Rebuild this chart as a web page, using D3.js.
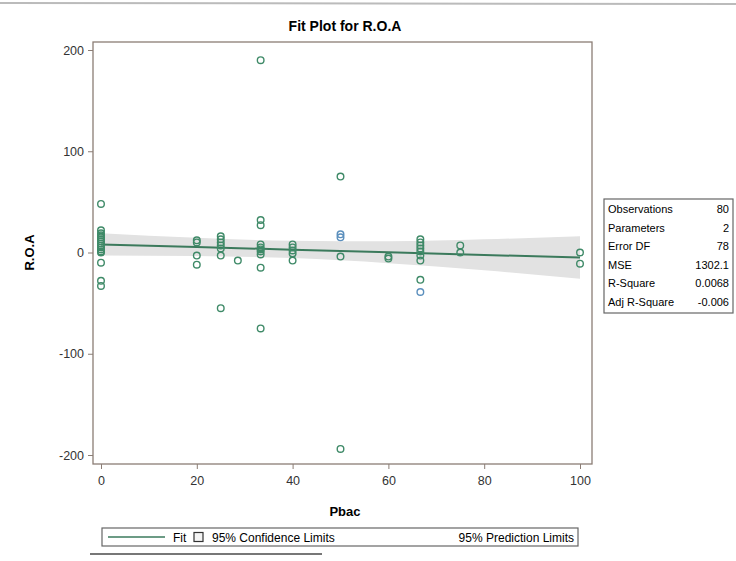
<!DOCTYPE html>
<html>
<head>
<meta charset="utf-8">
<script src="https://cdn.jsdelivr.net/npm/d3@7"></script>
<style>
  body { margin: 0; background: #fff; }
  text { font-family: "Liberation Sans", Arial, sans-serif; }
</style>
</head>
<body>
<svg class="viz"></svg>
<script>
var width = 736,
  height = 561;

// observations (column by column)
var pbac = [
  0, 0, 0, 0, 0, 0, 0, 0, 0, 0, 0, 0, 0, 0, 0, 0,
  20, 20, 20, 20,
  25, 25, 25, 25, 25, 25, 25,
  28.57,
  33.33, 33.33, 33.33, 33.33, 33.33, 33.33, 33.33, 33.33, 33.33, 33.33,
  40, 40, 40, 40, 40,
  50, 50, 50, 50, 50,
  60, 60,
  66.67, 66.67, 66.67, 66.67, 66.67, 66.67, 66.67, 66.67, 66.67,
  75, 75,
  100, 100
];
var roa = [
  48, 22, 19, 17, 15, 13, 11, 9, 7, 5, 3, 1, 0, -10, -28, -33,
  12, 10, -3, -12,
  16, 13, 10, 7, 4, -3, -55,
  -8,
  190, 32, 27, 8, 5, 3, 1, -2, -15, -75,
  8, 5, 2, -1, -8,
  75, 18, 15, -4, -194,
  -6, -4,
  13, 10, 7, 4, 1, -3, -8, -27, -39,
  7, 0,
  0, -11
];
// a few markers look blue in the scan (indexes into the arrays above)
var blue_points = [44, 45, 58];

// fitted line and 95% confidence band (read at these x values)
var band_x = [0, 20, 40, 60, 80, 100];
var fit_y = [8, 5.4, 2.8, 0.2, -2.4, -5];
var ci_upper = [19, 14.5, 11.5, 11, 13, 16];
var ci_lower = [-3, -3.5, -5.5, -10.5, -17.5, -26];

var x_ticks = [0, 20, 40, 60, 80, 100];
var y_ticks = [-200, -100, 0, 100, 200];

var stat_labels = ["Observations", "Parameters", "Error DF", "MSE", "R-Square", "Adj R-Square"];
var stat_values = ["80", "2", "78", "1302.1", "0.0068", "-0.006"];

var frame = { left: 93, right: 592, top: 42, bottom: 464 };
var green = "#3f8a68",
  fit_color = "#3b7a5c",
  blue = "#5b8fbd",
  frame_color = "#8b7d75";

var viz = d3.select(".viz")
  .attr("width", width)
  .attr("height", height);

var x = d3.scaleLinear().domain([0, 100]).range([101, 580]);
var y = d3.scaleLinear().domain([-200, 200]).range([455, 50]);

// scan edges
viz.append("line").attr("x1", 0).attr("x2", width).attr("y1", 3).attr("y2", 4)
  .attr("stroke", "#bbb").attr("stroke-width", 2);
viz.append("line").attr("x1", 90).attr("x2", 322).attr("y1", 554).attr("y2", 554)
  .attr("stroke", "#777").attr("stroke-width", 2);

// title
viz.append("text")
  .attr("x", 345).attr("y", 31)
  .attr("text-anchor", "middle")
  .attr("font-size", 14).attr("font-weight", "bold")
  .text("Fit Plot for R.O.A");

// band
var band_data = band_x.map(function(d, i) {
  return { x: d, lo: ci_lower[i], hi: ci_upper[i], fit: fit_y[i] };
});
var area = d3.area()
  .curve(d3.curveMonotoneX)
  .x(d => x(d.x))
  .y0(d => y(d.lo))
  .y1(d => y(d.hi));
viz.append("path")
  .datum(band_data)
  .attr("d", area)
  .attr("fill", "#e2e2e2");

// fit line
viz.append("path")
  .datum(band_data)
  .attr("d", d3.line().x(d => x(d.x)).y(d => y(d.fit)))
  .attr("fill", "none")
  .attr("stroke", fit_color)
  .attr("stroke-width", 2);

// points
viz.append("g").selectAll("circle")
  .data(pbac)
  .enter()
  .append("circle")
  .attr("cx", d => x(d))
  .attr("cy", (d, i) => y(roa[i]))
  .attr("r", 3.3)
  .attr("fill", "none")
  .attr("stroke", (d, i) => blue_points.indexOf(i) >= 0 ? blue : green)
  .attr("stroke-width", 1.4);

// frame
viz.append("rect")
  .attr("x", frame.left).attr("y", frame.top)
  .attr("width", frame.right - frame.left)
  .attr("height", frame.bottom - frame.top)
  .attr("fill", "none")
  .attr("stroke", frame_color)
  .attr("stroke-width", 1.3);

// axes
var plain = d => String(d);
var x_axis = viz.append("g")
  .attr("transform", "translate(0," + frame.bottom + ")")
  .call(d3.axisBottom(x).tickValues(x_ticks).tickFormat(plain)
    .tickSize(5).tickSizeOuter(0).tickPadding(7));
var y_axis = viz.append("g")
  .attr("transform", "translate(" + frame.left + ",0)")
  .call(d3.axisLeft(y).tickValues(y_ticks).tickFormat(plain)
    .tickSize(5).tickSizeOuter(0).tickPadding(4));
[x_axis, y_axis].forEach(function(g) {
  g.select(".domain").remove();
  g.selectAll("line").attr("stroke", frame_color);
  g.selectAll("text")
    .attr("font-size", 12.5)
    .attr("fill", "#333")
    .style("font-family", "'Liberation Sans', Arial, sans-serif");
});

// axis labels
viz.append("text")
  .attr("x", 345).attr("y", 516)
  .attr("text-anchor", "middle")
  .attr("font-size", 13).attr("font-weight", "bold")
  .text("Pbac");
viz.append("text")
  .attr("transform", "translate(34," + y(0) + ") rotate(-90)")
  .attr("text-anchor", "middle")
  .attr("font-size", 13).attr("font-weight", "bold")
  .text("R.O.A");

// stats table
var table = viz.append("g").attr("transform", "translate(604,199)");
table.append("rect")
  .attr("width", 129).attr("height", 114)
  .attr("fill", "#fff")
  .attr("stroke", "#666").attr("stroke-width", 1.2);
var rows = table.selectAll("g.row")
  .data(stat_labels)
  .enter()
  .append("g")
  .attr("class", "row")
  .attr("transform", (d, i) => "translate(0," + (14 + i * 18.5) + ")");
rows.append("text")
  .attr("x", 4)
  .attr("font-size", 11)
  .text(d => d);
rows.append("text")
  .attr("x", 125)
  .attr("text-anchor", "end")
  .attr("font-size", 11)
  .text((d, i) => stat_values[i]);

// legend
var legend = viz.append("g").attr("transform", "translate(102,528)");
legend.append("rect")
  .attr("width", 476).attr("height", 18)
  .attr("fill", "#fff")
  .attr("stroke", "#666").attr("stroke-width", 1.2);
legend.append("line")
  .attr("x1", 6).attr("x2", 63).attr("y1", 9).attr("y2", 9)
  .attr("stroke", fit_color).attr("stroke-width", 1.5);
legend.append("text").attr("x", 71).attr("y", 13.5).attr("font-size", 12).text("Fit");
legend.append("rect")
  .attr("x", 92).attr("y", 4.5).attr("width", 9).attr("height", 9)
  .attr("fill", "#f4f4f4").attr("stroke", "#333").attr("stroke-width", 1.2);
legend.append("text").attr("x", 110).attr("y", 13.5).attr("font-size", 12).text("95% Confidence Limits");
legend.append("text").attr("x", 472).attr("y", 13.5).attr("text-anchor", "end")
  .attr("font-size", 12).text("95% Prediction Limits");
</script>
</body>
</html>
